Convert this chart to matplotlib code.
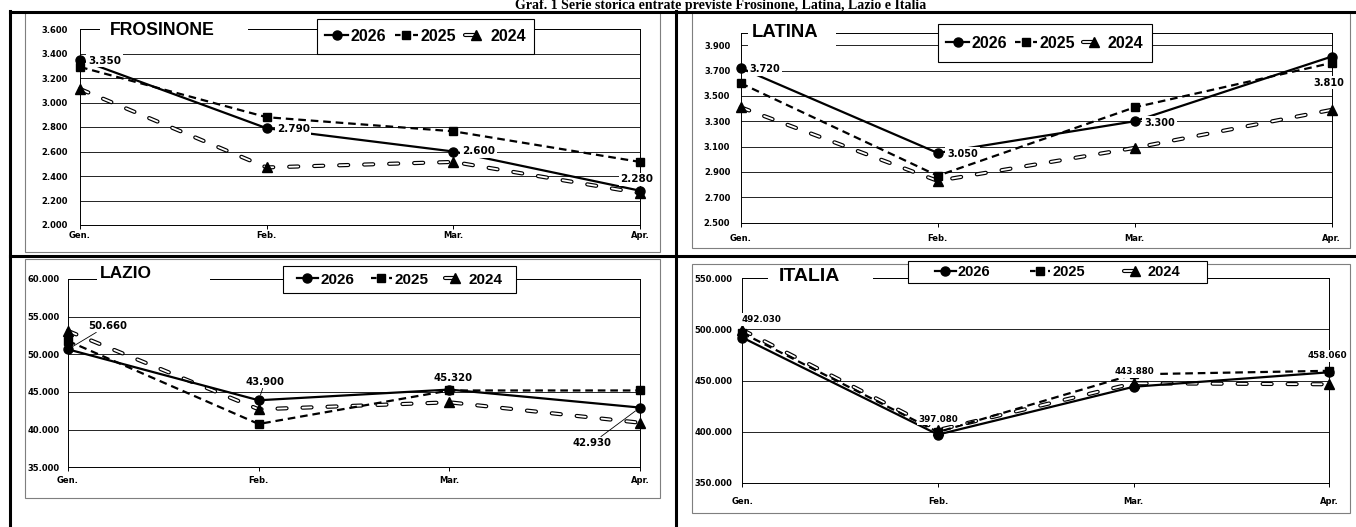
import numpy as np
import matplotlib
matplotlib.use("Agg")
import matplotlib.pyplot as plt
from matplotlib.lines import Line2D
from matplotlib.patches import Rectangle

plt.rcParams['font.family'] = ['DejaVu Sans']
plt.rcParams['lines.scale_dashes'] = False

W, H = 1356, 527

# dati
months = ["Gen.", "Feb.", "Mar.", "Apr."]
years = ["2026", "2025", "2024"]

frosinone_2026 = [3350, 2790, 2600, 2280]
frosinone_2025 = [3290, 2880, 2765, 2515]
frosinone_2024 = [3110, 2470, 2515, 2260]

latina_2026 = [3720, 3050, 3300, 3810]
latina_2025 = [3600, 2870, 3410, 3760]
latina_2024 = [3410, 2830, 3090, 3390]

lazio_2026 = [50660, 43900, 45320, 42930]
lazio_2025 = [51770, 40750, 45200, 45200]
lazio_2024 = [53100, 42700, 43630, 40920]

italia_2026 = [492030, 397080, 443880, 458060]
italia_2025 = [496500, 399500, 456000, 459500]
italia_2024 = [499500, 401500, 447300, 446300]

title = "Graf. 1 Serie storica entrate previste Frosinone, Latina, Lazio e Italia"


def fx(px):
    return px / W


def fy(py):
    return 1 - py / H


def it_num(v):
    return f"{v:,.0f}".replace(",", ".")


fig = plt.figure(figsize=(W / 100, H / 100), dpi=100)

# cornici del documento e delle aree grafico
for (x0, y0, x1, y1) in [(25, 12, 660, 252), (692, 12, 1350, 248),
                         (25, 259, 660, 498), (692, 264, 1350, 513)]:
    fig.add_artist(Rectangle((fx(x0), fy(y1)), (x1 - x0) / W, (y1 - y0) / H,
                             transform=fig.transFigure, fill=False,
                             ec='#7f7f7f', lw=0.8, zorder=0))
for (xa, ya, xb, yb) in [(10, 11.5, 1356, 11.5), (10, 11, 10, 527),
                         (676, 11, 676, 527), (10, 256, 1356, 256)]:
    fig.add_artist(Line2D([fx(xa), fx(xb)], [fy(ya), fy(yb)], color='black',
                          lw=2.2, transform=fig.transFigure, zorder=20))

fig.text(fx(721), fy(9.3), title, ha='center', va='baseline',
         family='Liberation Serif', weight='bold', fontsize=10)

x = np.arange(len(months))


def panel(rect, name, s26, s25, s24, ylim, ystep, name_box, name_xy, name_size,
          leg_box, colsp, leg_size, labels, lab_size, ypad, xpad):
    x0, y0, x1, y1 = rect
    ax = fig.add_axes([fx(x0), fy(y1), (x1 - x0) / W, (y1 - y0) / H])
    ax.set_xlim(0, 3)
    ax.set_ylim(*ylim)
    ax.set_yticks(np.arange(ylim[0], ylim[1] + 1, ystep))
    ax.set_xticks(x)
    ax.set_xticklabels(months)
    ax.yaxis.set_major_formatter(plt.FuncFormatter(lambda v, p: it_num(v)))
    ax.yaxis.grid(True, color='black', lw=0.6)
    ax.set_axisbelow(True)
    for s in ax.spines.values():
        s.set_color('black')
        s.set_linewidth(0.7)
    ax.tick_params(axis='y', length=0, pad=ypad, labelsize=6)
    ax.tick_params(axis='x', length=3, width=0.7, pad=xpad, labelsize=6)
    for t in ax.get_xticklabels() + ax.get_yticklabels():
        t.set_fontweight('bold')

    ax.plot(x, s24, color='black', lw=3.0, ls=(0, (6.5, 11.5)),
            dash_capstyle='round', zorder=3, clip_on=False)
    ax.plot(x, s24, color='white', lw=1.3, ls=(0, (6.5, 11.5)),
            dash_capstyle='round', zorder=3.1, clip_on=False)
    ax.plot(x, s24, ls='none', marker='^', color='black', ms=6.5,
            zorder=3.2, clip_on=False)
    ax.plot(x, s25, color='black', lw=1.6, ls=(0, (5.5, 3.5)), marker='s',
            ms=5.5, zorder=4, clip_on=False)
    ax.plot(x, s26, color='black', lw=1.6, marker='o', ms=6.5, zorder=5,
            clip_on=False)

    # etichette dati 2026
    for (i, dx, dy, leader) in labels:
        kw = {}
        if leader:
            kw['arrowprops'] = dict(arrowstyle='-', color='black', lw=0.6,
                                    shrinkA=0, shrinkB=4)
        ax.annotate(it_num(s26[i]), xy=(i, s26[i]), xytext=(dx, dy),
                    textcoords='offset pixels', ha='center', va='center',
                    fontsize=lab_size, weight='bold', zorder=8,
                    annotation_clip=False,
                    bbox=dict(fc='white', ec='none', pad=1.2), **kw)

    # titolo del grafico
    bx0, by0, bx1, by1 = name_box
    fig.add_artist(Rectangle((fx(bx0), fy(by1)), (bx1 - bx0) / W,
                             (by1 - by0) / H, transform=fig.transFigure,
                             fc='white', ec='none', zorder=6))
    fig.text(fx(name_xy[0]), fy(name_xy[1]), name, ha='left', va='center',
             family='Liberation Sans', weight='bold', fontsize=name_size,
             zorder=7)

    # legenda: riquadro + voci
    lx0, ly0, lx1, ly1 = leg_box
    fig.add_artist(Rectangle((fx(lx0), fy(ly1)), (lx1 - lx0) / W,
                             (ly1 - ly0) / H, transform=fig.transFigure,
                             fc='white', ec='black', lw=0.8, zorder=9))
    h26 = Line2D([], [], color='black', lw=1.6, marker='o', ms=6.5)
    h25 = Line2D([], [], color='black', lw=1.6, ls=(0, (4, 2.5)),
                 marker='s', ms=5.5)
    h24 = (Line2D([], [], color='black', lw=3.0, ls=(0, (6.5, 11.5)),
                  dash_capstyle='round'),
           Line2D([], [], color='white', lw=1.3, ls=(0, (6.5, 11.5)),
                  dash_capstyle='round'),
           Line2D([], [], ls='none', marker='^', color='black', ms=6.5))
    leg = fig.legend([h26, h25, h24], years, ncol=3, loc='center',
                     bbox_to_anchor=(fx(lx0), fy(ly1), (lx1 - lx0) / W,
                                     (ly1 - ly0) / H),
                     bbox_transform=fig.transFigure, borderaxespad=0,
                     prop=dict(family='Liberation Sans', weight='bold',
                               size=leg_size),
                     frameon=False, handlelength=1.4, handletextpad=0.15,
                     columnspacing=colsp, borderpad=0)
    leg.set_zorder(10)
    return ax


panel((80, 29, 640, 225), "FROSINONE",
      frosinone_2026, frosinone_2025, frosinone_2024,
      (2000, 3600), 200, (100, 19, 248, 42), (110, 30.7), 12.7,
      (317, 19, 534, 54), 0.6, 11.5,
      [(0, 24.5, -1, False), (1, 26.6, -1, False), (2, 25, 0, False),
       (3, -3, 11.4, False)], 7.5, 9, 1)

panel((740.7, 32.5, 1331.7, 222.7), "LATINA",
      latina_2026, latina_2025, latina_2024,
      (2500, 4000), 200, (748, 22, 836, 47), (751.7, 32.7), 13.3,
      (938, 24, 1152, 62), 0.5, 11.5,
      [(0, 24.3, -1.4, False), (1, 24.8, -1, False), (2, 24.8, -1.5, False),
       (3, -3.2, -26, False)], 7, 7.5, 5)

panel((68, 279, 640, 467.3), "LAZIO",
      lazio_2026, lazio_2025, lazio_2024,
      (35000, 60000), 5000, (97, 262, 210, 285), (100, 273), 12.5,
      (283, 266, 516, 293), 1.08, 11,
      [(0, 39.3, 23.6, True), (1, 6.3, 18.6, True), (2, 3.5, 11.3, False),
       (3, -48, -35.7, True)], 7.3, 6, 3)

panel((742.3, 278.3, 1329.3, 482.7), "ITALIA",
      italia_2026, italia_2025, italia_2024,
      (350000, 550000), 50000, (768, 266, 873, 289), (779, 276.7), 14,
      (908, 261, 1207, 283), 2.7, 10.5,
      [(0, 18.9, 18.2, False), (1, 0.3, 15.3, False), (2, 1.3, 15.1, False),
       (3, -1.8, 16.3, False)], 6.3, 7, 7)

fig.savefig("out.png", dpi=100)
